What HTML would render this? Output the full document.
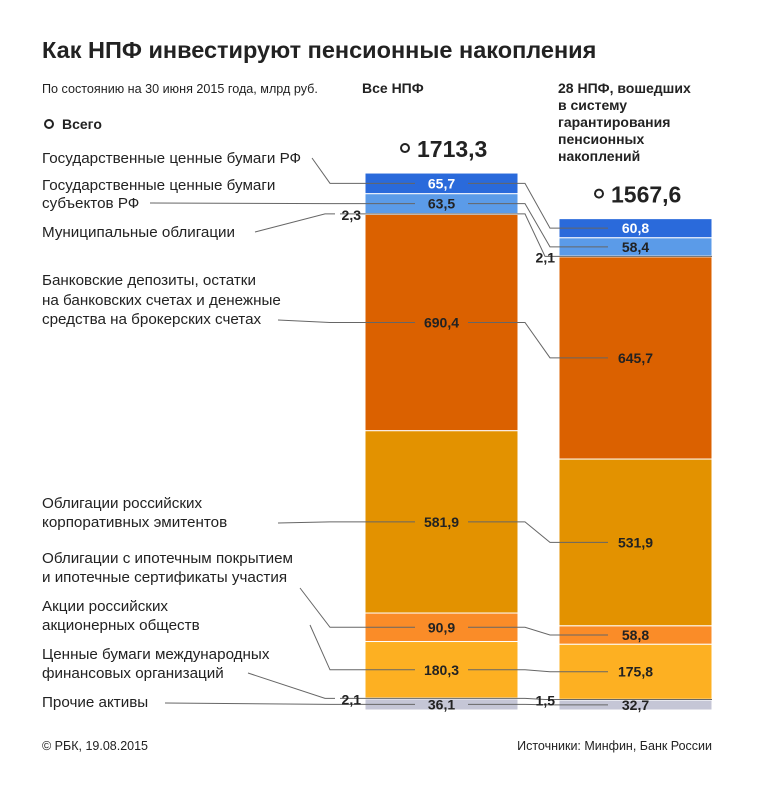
<!DOCTYPE html>
<html><head><meta charset="utf-8"><style>
body{margin:0;background:#fff;}
svg{display:block;font-family:"Liberation Sans Narrow","Liberation Sans",sans-serif;}
</style></head><body>
<svg id="c" width="760" height="800" viewBox="0 0 760 800">
<text x="42" y="58" font-size="23.5" font-weight="bold" fill="#222">Как НПФ инвестируют пенсионные накопления</text>
<text x="42" y="93" font-size="12.6" fill="#222">По состоянию на 30 июня 2015 года, млрд руб.</text>
<text x="362" y="93" font-size="14" font-weight="bold" fill="#222">Все НПФ</text>
<g font-size="14" font-weight="bold" fill="#222">
<text x="558" y="93">28 НПФ, вошедших</text><text x="558" y="110">в систему</text><text x="558" y="127">гарантирования</text><text x="558" y="144">пенсионных</text><text x="558" y="161">накоплений</text></g>
<circle cx="49" cy="124" r="4" fill="none" stroke="#222" stroke-width="2"/>
<text x="62" y="129" font-size="14" font-weight="bold" fill="#222">Всего</text>
<g font-size="15.2" fill="#222">
<text x="42" y="163">Государственные ценные бумаги РФ</text>
<text x="42" y="190">Государственные ценные бумаги</text><text x="42" y="208">субъектов РФ</text>
<text x="42" y="237">Муниципальные облигации</text>
<text x="42" y="285">Банковские депозиты, остатки</text><text x="42" y="305">на банковских счетах и денежные</text><text x="42" y="324">средства на брокерских счетах</text>
<text x="42" y="508">Облигации российских</text><text x="42" y="527">корпоративных эмитентов</text>
<text x="42" y="563">Облигации с ипотечным покрытием</text><text x="42" y="582">и ипотечные сертификаты участия</text>
<text x="42" y="611">Акции российских</text><text x="42" y="630">акционерных обществ</text>
<text x="42" y="659">Ценные бумаги международных</text><text x="42" y="678">финансовых организаций</text>
<text x="42" y="707">Прочие активы</text></g>
<text x="42" y="750" font-size="12.5" fill="#222">© РБК, 19.08.2015</text>
<text x="712" y="750" font-size="12.5" fill="#222" text-anchor="end">Источники: Минфин, Банк России</text>
<g id="marks"></g>
</svg>
<script>
const categories=["Прочие активы","Ценные бумаги МФО","Акции","Ипотечные","Корпоративные облигации","Банковские депозиты","Муниципальные","Субъекты РФ","Госбумаги РФ"];
const seriesAll=[36.1,2.1,180.3,90.9,581.9,690.4,2.3,63.5,65.7];
const series28=[32.7,1.5,175.8,58.8,531.9,645.7,2.1,58.4,60.8];
const totals=[1713.3,1567.6];
const colors=["#c5c6d6","#fdb022","#fdb022","#fa8c28","#e39200","#db6100","#5b9be8","#5b9be8","#2a6adb"];
const NS="http://www.w3.org/2000/svg";
const g=document.getElementById('marks');
const base=710, scale=537/1713.3;
const yv=v=>base-v*scale;
function mk(t,a){const e=document.createElementNS(NS,t);for(const k in a)e.setAttribute(k,a[k]);g.appendChild(e);return e;}
const cols=[{x:365,w:153,d:seriesAll},{x:559,w:153,d:series28}];
const mids=[[],[]];
cols.forEach((c,ci)=>{
  let cum=0;
  c.d.forEach((v,i)=>{
    const y0=yv(cum),y1=yv(cum+v);cum+=v;
    const r=mk('rect',{x:c.x,y:y1,width:c.w,height:Math.max(y0-y1,0.8),fill:colors[i],stroke:'#fff','stroke-width':1});
    
    
    mids[ci][i]=(y0+y1)/2;
  });
  const ty=yv(cum);
  const tc=mk('circle',{cx:c.x+40,cy:ty-25,r:4,fill:'none',stroke:'#222','stroke-width':2});
  
  
  const tt=mk('text',{x:c.x+52,y:ty-16,'font-size':23,'font-weight':'bold',fill:'#222'});
  tt.textContent=totals[ci].toFixed(1).replace('.',',');
  
  
});
const fmt=v=>v.toFixed(1).replace('.',',');
const thin=[1,6];
const anchors=[[165,703],[248,673],[310,625],[300,588],[278,523],[278,320],[255,232],[150,203],[312,158]];
for(let i=0;i<9;i++){
  const m0=mids[0][i],m1=mids[1][i];
  const isThin=thin.includes(i);
  const a=anchors[i];
  const L=mk('polyline',{points:`${a[0]},${a[1]} ${isThin?325:330},${m0} ${isThin?335:415},${m0}`,fill:'none',stroke:'#666','stroke-width':1});
  
  
  const R=mk('polyline',{points:isThin?`${340},${m0} 525,${m0} 545,${m1} 712,${m1}`:`468,${m0} 525,${m0} 550,${m1} 608,${m1}`,fill:'none',stroke:'#666','stroke-width':1});
  
  
  [0,1].forEach(ci=>{
    const v=ci?series28[i]:seriesAll[i];const m=ci?m1:m0;
    let t;
    if(isThin){t=mk('text',{x:cols[ci].x-4,y:m+6,'text-anchor':'end','font-size':14,'font-weight':'bold',fill:'#222'});}
    else{
      const bx=cols[ci].x+cols[ci].w/2;
      t=mk('text',{x:bx,y:m+5,'text-anchor':'middle','font-size':14,'font-weight':'bold',fill:i===8?'#fff':'#222'});
    }
    t.textContent=fmt(v);
    
    
  });
}
</script>
</body></html>
